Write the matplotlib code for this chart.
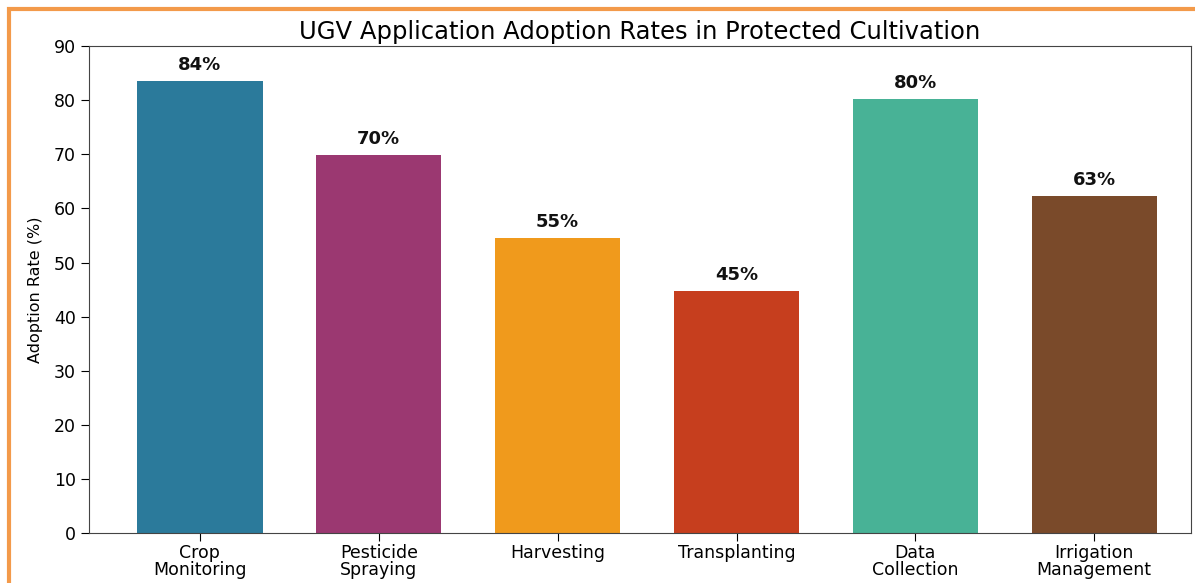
import matplotlib.pyplot as plt
from matplotlib.patches import Rectangle

# data
categories = ['Crop\nMonitoring', 'Pesticide\nSpraying', 'Harvesting',
              'Transplanting', 'Data\nCollection', 'Irrigation\nManagement']
rates = [83.6, 69.8, 54.6, 44.8, 80.2, 62.3]
rate_labels = ['84%', '70%', '55%', '45%', '80%', '63%']
colors = ['#2B7A9B', '#9B3871', '#F09A1C', '#C63E1E', '#48B296', '#7A4A2A']

fig = plt.figure(figsize=(11.95, 5.83), dpi=100)
ax = fig.add_axes([0.0745, 0.0858, 0.922, 0.835])

x = range(len(categories))
ax.bar(x, rates, width=0.7, color=colors)
for i, (v, lab) in enumerate(zip(rates, rate_labels)):
    ax.text(i, v + 1.3, lab, ha='center', va='bottom',
            fontsize=13, fontweight='bold', color='#111111')

ax.set_xticks(list(x))
ax.set_xticklabels(categories, fontsize=12.5, linespacing=0.9)
ax.set_yticks(range(0, 91, 10))
ax.tick_params(axis='y', labelsize=12.5, length=6)
ax.tick_params(axis='x', length=6, pad=2)
ax.set_ylim(0, 90)
ax.set_xlim(-0.62, 5.54)
ax.set_ylabel('Adoption Rate (%)', fontsize=11.5, labelpad=8)
ax.set_title('UGV Application Adoption Rates in Protected Cultivation',
             fontsize=17.5, pad=5)
for s in ax.spines.values():
    s.set_color('#444444')

# orange frame on top and left edges
fig.patches.append(Rectangle((9 / 1195, -0.1), 1.2, 1.1 - 9 / 583,
                             transform=fig.transFigure, fill=False,
                             edgecolor='#F39A4A', linewidth=3, zorder=10))

fig.savefig('out.png', dpi=100)
